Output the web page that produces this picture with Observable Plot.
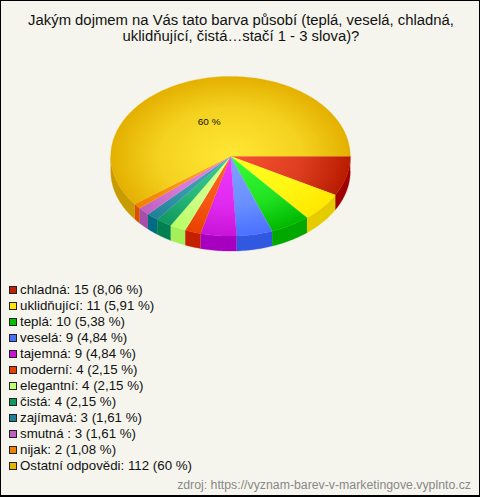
<!DOCTYPE html>
<html><head><meta charset="utf-8">
<script src="https://cdn.jsdelivr.net/npm/d3@7"></script>
<script src="https://cdn.jsdelivr.net/npm/@observablehq/plot@0.6"></script>
<style>
html,body{margin:0;padding:0;background:#f5f5ee;}
#frame{position:relative;width:480px;height:497px;box-sizing:border-box;border:1px solid #000;border-bottom-width:2px;background:#f5f5ee;overflow:hidden;font-family:"Liberation Sans",Arial,sans-serif;color:#111;}
#title{position:absolute;left:0;top:12px;width:480px;text-align:center;font-size:14.85px;line-height:15.5px;}
#chart{position:absolute;left:-1px;top:48px;}
#chart svg{background:transparent;display:block;}
#legend{position:absolute;left:8px;top:280.5px;font-size:13.3px;line-height:16.05px;}
#legend .row{display:flex;align-items:center;height:16.05px;white-space:nowrap;}
#legend i{display:inline-block;box-sizing:border-box;width:8px;height:8px;border:1px solid #222;margin-right:3px;}
#source{position:absolute;right:8px;top:477px;font-size:12.3px;line-height:14px;color:#888;white-space:nowrap;}
</style></head>
<body>
<div id="frame">
<div id="title">Jakým dojmem na Vás tato barva působí (teplá, veselá, chladná,<br>uklidňující, čistá…stačí 1 - 3 slova)?</div>
<div id="chart"></div>
<div id="legend"></div>
<div id="source">zdroj: https://vyznam-barev-v-marketingove.vyplnto.cz</div>
</div>
<script>
const categories = ["chladná","uklidňující","teplá","veselá","tajemná","moderní","elegantní","čistá","zajímavá","smutná ","nijak","Ostatní odpovědi"];
const counts = [15,11,10,9,9,4,4,4,3,3,2,112];
const percents = ["8,06","5,91","5,38","4,84","4,84","2,15","2,15","2,15","1,61","1,61","1,08","60"];
const rimColors = ["#b81c00","#ffe800","#00b800","#4a70ff","#c814d8","#e84000","#b8ff68","#109860","#208098","#c060c0","#f08000","#e4b000"];
const hubColors = ["#f85434","#ffff20","#38ff38","#80a4ff","#f038ff","#ff6420","#dcff98","#38cc88","#48a8b8","#e488e4","#ffa020","#ffe834"];
const wallColors = ["#a00000","#e4cc00","#00a800","#3058e0","#a800c0","#c42000","#a4f058","#008050","#006c84","#a450a8","#d85000","#c89c00"];
const swatchColors = ["#c02000","#ffe800","#00c000","#4a70ff","#c814d8","#e84000","#c0ff70","#109860","#208098","#c060c0","#f08000","#e8b400"];

const wallDepth = 15 / 80; // in units of the vertical radius
const slices = d3.pie().sort(null).startAngle(0).endAngle(2 * Math.PI)(counts);

function arcPoints(a0, a1) {
  const n = Math.max(2, Math.ceil((a1 - a0) / 0.02));
  return d3.range(n + 1).map(i => {
    const a = a0 + (a1 - a0) * i / n;
    return {x: Math.cos(a), y: Math.sin(a)};
  });
}
const topFace = s => [{x: 0, y: 0}, ...arcPoints(s.startAngle, s.endAngle)];
function wall(s) {
  const a1 = Math.min(s.endAngle, Math.PI);
  if (s.startAngle >= a1) return [];
  const rim = arcPoints(s.startAngle, a1);
  return [...rim, ...rim.slice().reverse().map(p => ({x: p.x, y: p.y + wallDepth}))];
}

const defs = (index, scales) => {
  const ns = "http://www.w3.org/2000/svg";
  const d = document.createElementNS(ns, "defs");
  const cx = scales.x(0), cy = scales.y(0), rx = scales.x(1) - cx, ry = scales.y(1) - cy;
  slices.forEach((s, i) => {
    const g = document.createElementNS(ns, "radialGradient");
    g.setAttribute("id", "slice" + i);
    g.setAttribute("gradientUnits", "userSpaceOnUse");
    g.setAttribute("cx", 0); g.setAttribute("cy", 0); g.setAttribute("r", 1);
    g.setAttribute("gradientTransform", `translate(${cx} ${cy}) scale(${rx} ${ry})`);
    const mix = d3.interpolateRgb(hubColors[i], rimColors[i]);
    [[0, mix(0)], [0.6, mix(0.4)], [1, mix(1)]].forEach(([o, c]) => {
      const st = document.createElementNS(ns, "stop");
      st.setAttribute("offset", o); st.setAttribute("stop-color", c);
      g.appendChild(st);
    });
    d.appendChild(g);
  });
  return d;
};

const big = slices[slices.length - 1];
const midAngle = (big.startAngle + big.endAngle) / 2;
const pctLabel = [{x: 0.46 * Math.cos(midAngle), y: 0.46 * Math.sin(midAngle), t: percents[percents.length - 1] + " %"}];

const plot = Plot.plot({
  width: 480, height: 215,
  margin: 0,
  x: {domain: [-1, 1], range: [110.5, 350.5], axis: null},
  y: {domain: [-1, 1], range: [27, 187], axis: null},
  marks: [
    defs,
    ...slices.map((s, i) => Plot.line(wall(s), {x: "x", y: "y", fill: wallColors[i], stroke: wallColors[i], strokeWidth: 0.3})),
    ...slices.map((s, i) => Plot.line(topFace(s), {x: "x", y: "y", fill: `url(#slice${i})`, stroke: `url(#slice${i})`, strokeWidth: 0.3})),
    Plot.text(pctLabel, {x: "x", y: "y", text: "t", dx: -4, fontSize: 10, fontFamily: "Liberation Sans", fill: "#111"})
  ]
});
document.getElementById("chart").appendChild(plot);

const legend = document.getElementById("legend");
categories.forEach((c, i) => {
  const row = document.createElement("div");
  row.className = "row";
  const sw = document.createElement("i");
  sw.style.background = swatchColors[i];
  row.appendChild(sw);
  row.appendChild(document.createTextNode(`${c}: ${counts[i]} (${percents[i]} %)`));
  legend.appendChild(row);
});
</script>
</body></html>
